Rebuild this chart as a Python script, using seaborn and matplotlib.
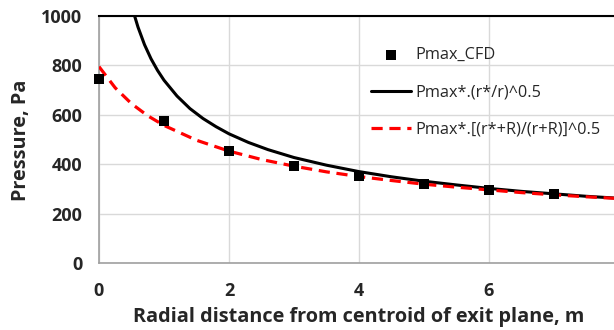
import matplotlib
matplotlib.use("Agg")
import matplotlib.pyplot as plt
import seaborn as sns
import pandas as pd

# CFD points
cfd_r = [0, 1, 2, 3, 4, 5, 6, 7]
cfd_p = [745, 575, 453, 393, 352, 320, 296, 279]

# Pmax*.(r*/r)^0.5
m1_r = [0.548, 0.6, 0.7, 0.8, 0.9, 1.0, 1.2, 1.4, 1.6, 1.8, 2.0, 2.3, 2.6, 3.0,
        3.5, 4.0, 4.5, 5.0, 5.5, 6.0, 6.5, 7.0, 7.5, 8.0]
m1_p = [1000, 955, 884, 827, 780, 740, 676, 625, 585, 552, 523, 488, 459, 427,
        396, 370, 349, 331, 316, 302, 290, 280, 270, 262]

# Pmax*.[(r*+R)/(r+R)]^0.5
m2_r = [0, 0.25, 0.5, 0.75, 1.0, 1.5, 2.0, 2.5, 3.0, 3.5, 4.0, 4.5, 5.0, 5.5,
        6.0, 6.5, 7.0, 7.5, 8.0]
m2_p = [795, 709, 645, 596, 557, 497, 453, 419, 392, 369, 350, 334, 319, 307,
        296, 285, 276, 268, 261]

labels = ["Pmax_CFD", "Pmax*.(r*/r)^0.5", "Pmax*.[(r*+R)/(r+R)]^0.5"]
xticks = [0, 2, 4, 6, 8]
yticks = [0, 200, 400, 600, 800, 1000]

sns.set_style("white")
plt.rcParams['font.family'] = ['Open Sans', 'DejaVu Sans']

W, H = 614, 330
fig = plt.figure(figsize=(W / 100, H / 100), dpi=100)
ax = fig.add_axes([99 / W, 67 / H, 520 / W, 247 / H])

df1 = pd.DataFrame({"r": m1_r, "p": m1_p})
df2 = pd.DataFrame({"r": m2_r, "p": m2_p})
dfc = pd.DataFrame({"r": cfd_r, "p": cfd_p})

sns.scatterplot(data=dfc, x="r", y="p", ax=ax, marker="s", s=45, color="black",
                edgecolor="black", linewidth=0, label=labels[0], zorder=5, clip_on=False)
sns.lineplot(data=df1, x="r", y="p", ax=ax, color="black", linewidth=2.2,
             label=labels[1], zorder=3, sort=False)
sns.lineplot(data=df2, x="r", y="p", ax=ax, color="#ff0000", linewidth=2.3,
             label=labels[2], zorder=4, sort=False)
ax.lines[-1].set_dashes([3.5, 2.1])

ax.set_xlim(0, 8)
ax.set_ylim(0, 1000)
ax.set_xticks(xticks)
ax.set_yticks(yticks)
ax.grid(True, color="#d9d9d9", linewidth=1.0)
ax.set_axisbelow(True)
for s in ["left", "bottom"]:
    ax.spines[s].set_color("#a0a0a0")
    ax.spines[s].set_linewidth(1.2)
ax.spines["top"].set_color("black")
ax.spines["top"].set_linewidth(1.5)
ax.spines["right"].set_visible(False)
ax.tick_params(axis="x", length=0, labelsize=13, pad=14)
ax.tick_params(axis="y", length=0, labelsize=13, pad=12)
for t in ax.get_xticklabels() + ax.get_yticklabels():
    t.set_fontweight("bold")
ax.set_xlabel("")
ax.set_ylabel("")
fig.text(359 / W, 8 / H, "Radial distance from centroid of exit plane, m",
         fontsize=14.3, fontweight="bold", ha="center", va="baseline")
fig.text(21 / W, (H - 140) / H, "Pressure, Pa", fontsize=14.3, fontweight="bold",
         ha="center", va="center", rotation=90)

leg = ax.legend(loc="upper left", bbox_to_anchor=(0.51, 0.90), frameon=False,
                fontsize=11.7, labelspacing=1.3, handlelength=2.5, handletextpad=0.25,
                borderaxespad=0)
leg.legend_handles[2].set_dashes([3.5, 2.1])

fig.savefig("out.png", dpi=100)
